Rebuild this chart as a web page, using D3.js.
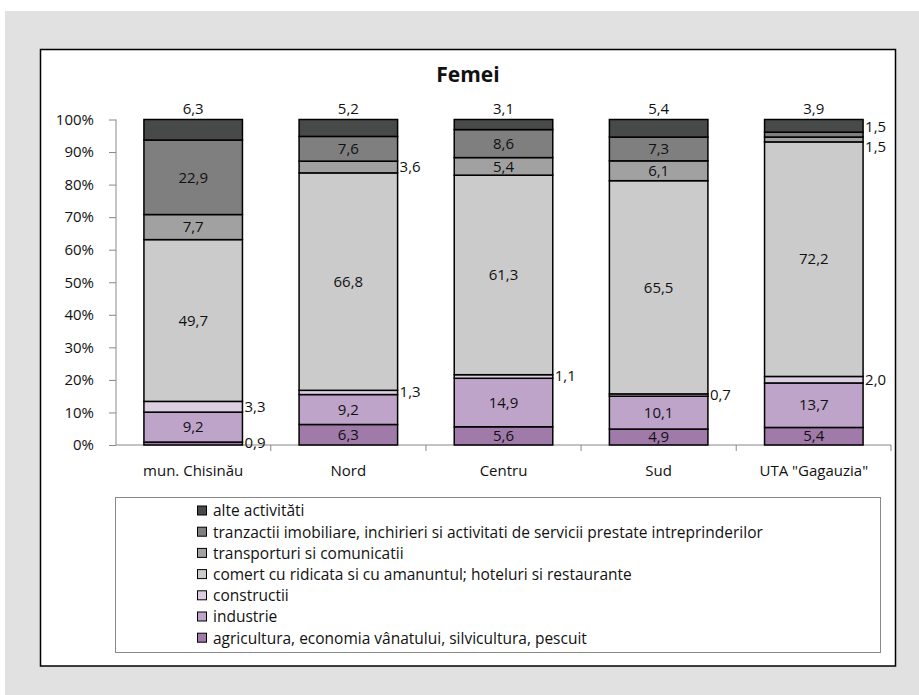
<!DOCTYPE html>
<html><head><meta charset="utf-8">
<script src="https://cdn.jsdelivr.net/npm/d3@7"></script>
<style>body{margin:0;background:#fff}svg{display:block}text{font-family:"Open Sans",sans-serif;fill:#111}</style>
</head><body><svg id="c" width="919" height="695"></svg>
<script>
const categories = ["mun. Chisinău", "Nord", "Centru", "Sud", "UTA \"Gagauzia\""];
const seriesNames = [
  "agricultura, economia vânatului, silvicultura, pescuit",
  "industrie",
  "constructii",
  "comert cu ridicata si cu amanuntul; hoteluri si restaurante",
  "transporturi si comunicatii",
  "tranzactii imobiliare, inchirieri si activitati de servicii prestate intreprinderilor",
  "alte activităti"
];
const agricultura = [0.9, 6.3, 5.6, 4.9, 5.4];
const industrie   = [9.2, 9.2, 14.9, 10.1, 13.7];
const constructii = [3.3, 1.3, 1.1, 0.7, 2.0];
const comert      = [49.7, 66.8, 61.3, 65.5, 72.2];
const transport   = [7.7, 3.6, 5.4, 6.1, 1.5];
const tranzactii  = [22.9, 7.6, 8.6, 7.3, 1.5];
const alte        = [6.3, 5.2, 3.1, 5.4, 3.9];
const yTicks = [0, 10, 20, 30, 40, 50, 60, 70, 80, 90, 100];
const colors = ["#a07aa9", "#bea4c9", "#dccfe1", "#cbcbcb", "#a1a1a1", "#7e7f7e", "#484a49"];

const seriesValues = [agricultura, industrie, constructii, comert, transport, tranzactii, alte];
const svg = d3.select("#c");
svg.append("rect").attr("x", 5).attr("y", 11).attr("width", 914).attr("height", 684).attr("fill", "#e0e1e0");
svg.append("rect").attr("x", 40.5).attr("y", 49.5).attr("width", 855).attr("height", 616.5)
  .attr("fill", "#fff").attr("stroke", "#000").attr("stroke-width", 1.5);

svg.append("text").attr("x", 468).attr("y", 82).attr("text-anchor", "middle")
  .style("font-size", "21px").style("font-weight", "bold").text("Femei");

const x = d3.scaleBand().domain(categories).range([116, 891]).paddingInner(0.365).paddingOuter(0.18);
const y = d3.scaleLinear().domain([0, 100]).range([445, 119.5]);

const rows = categories.map((c, i) => {
  const r = {cat: c};
  seriesNames.forEach((s, j) => r[s] = seriesValues[j][i]);
  return r;
});
const stack = d3.stack().keys(seriesNames)
  .offset(d3.stackOffsetExpand)(rows);

// axes
const yAxis = d3.axisLeft(y).tickValues(yTicks).tickSize(7).tickFormat(d => d + "%");
const ga = svg.append("g").attr("transform", "translate(116,0)").call(yAxis);
ga.select(".domain").attr("stroke", "#888").attr("d", "M0,119.5V445");
ga.selectAll(".tick line").attr("stroke", "#888");
ga.selectAll(".tick text").attr("x", -22).style("font-size", "15px").style("font-family", "'Open Sans',sans-serif").attr("fill", "#111");

const gx = svg.append("g").attr("transform", "translate(0,445)");
gx.append("line").attr("x1", 116).attr("x2", 891).attr("stroke", "#888");
const bounds = categories.map(c => x(c) - x.step() * x.paddingInner() / 2).concat([891]);
bounds.slice(1).forEach(b => gx.append("line").attr("x1", b).attr("x2", b).attr("y1", 0).attr("y2", 6).attr("stroke", "#888"));
categories.forEach(c => gx.append("text").attr("x", x(c) + x.bandwidth() / 2).attr("y", 31)
  .attr("text-anchor", "middle").style("font-size", "15px").text(c));

// bars
const layers = svg.append("g").selectAll("g").data(stack).join("g").attr("fill", (d, i) => colors[i]);
layers.selectAll("rect").data(d => d).join("rect")
  .attr("x", d => x(d.data.cat)).attr("width", x.bandwidth())
  .attr("y", d => y(d[1] * 100)).attr("height", d => y(d[0] * 100) - y(d[1] * 100))
  .attr("stroke", "#000").attr("stroke-width", 1.5);

// labels
const fmt = v => v.toFixed(1).replace(".", ",");
const lg = svg.append("g").style("font-size", "15px");
categories.forEach((c, i) => {
  const outside = [];
  stack.forEach((layer, j) => {
    const d = layer[i];
    const v = seriesValues[j][i];
    const mid = y((d[0] + d[1]) / 2 * 100);
    if (j === stack.length - 1) {
      lg.append("text").attr("x", x(c) + x.bandwidth() / 2).attr("y", y(100) - 6)
        .attr("text-anchor", "middle").text(fmt(v));
    } else if (v < 4) {
      outside.push({v, mid});
    } else {
      lg.append("text").attr("x", x(c) + x.bandwidth() / 2).attr("y", mid).attr("dy", "0.35em")
        .attr("text-anchor", "middle").text(fmt(v));
    }
  });
  // avoid overlap of outside labels
  const minGap = 20;
  outside.sort((a, b) => b.mid - a.mid);
  for (let k = 1; k < outside.length; k++) {
    const gap = outside[k - 1].mid - outside[k].mid;
    if (gap < minGap) {
      const shift = (minGap - gap) / 2;
      outside[k - 1].mid += shift; outside[k].mid -= shift;
    }
  }
  outside.forEach(o => lg.append("text").attr("x", x(c) + x.bandwidth() + 2).attr("y", o.mid)
    .attr("dy", "0.33em").text(fmt(o.v)));
});

// legend
svg.append("rect").attr("x", 115.5).attr("y", 497.5).attr("width", 765).attr("height", 155)
  .attr("fill", "#fff").attr("stroke", "#888").attr("stroke-width", 1);
const legendOrder = seriesNames.map((s, i) => i).reverse();
const lgd = svg.append("g");
legendOrder.forEach((j, k) => {
  const cy = 511 + k * 21.2;
  lgd.append("rect").attr("x", 197.5).attr("y", cy - 5).attr("width", 9).attr("height", 9)
    .attr("fill", colors[j]).attr("stroke", "#000").attr("stroke-width", 1);
  lgd.append("text").attr("x", 213).attr("y", cy).attr("dy", "0.35em")
    .style("font-size", "15.5px").text(seriesNames[j]);
});
</script></body></html>
